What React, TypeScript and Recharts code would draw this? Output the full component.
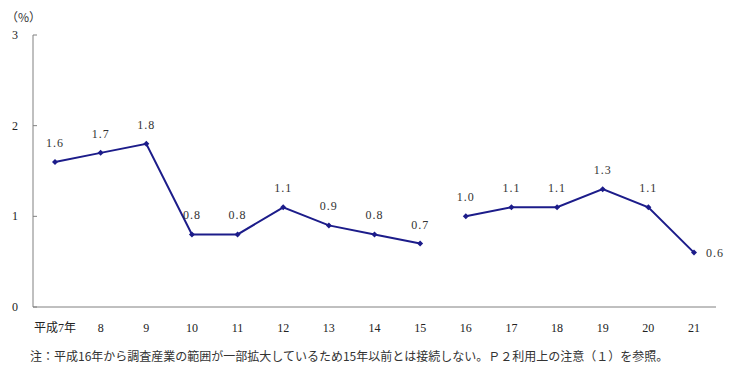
import { LineChart, Line, XAxis, YAxis, LabelList } from 'recharts';

// 年次（平成）
const years = ['平成7年', '8', '9', '10', '11', '12', '13', '14', '15', '16', '17', '18', '19', '20', '21'];
// 平成7〜15年
const before = [1.6, 1.7, 1.8, 0.8, 0.8, 1.1, 0.9, 0.8, 0.7];
// 平成16〜21年（調査産業の範囲が拡大）
const after = [1.0, 1.1, 1.1, 1.3, 1.1, 0.6];
const yTicks = [0, 1, 2, 3];

const data = years.map((y, i) => ({
  year: y,
  before: i < before.length ? before[i] : null,
  after: i >= before.length ? after[i - before.length] : null,
}));

const FONT = "'Liberation Serif', 'Noto Sans CJK JP', serif";
const LINE = '#1c1c8a';
const AXIS = '#808080';

const YTick = ({ x, y, payload }: any) => (
  <g>
    <text x={x} y={y} dy={4} textAnchor="end" fontSize={12} fill="#222" style={{ fontFamily: FONT }}>
      {payload.value}
    </text>
    <line x1={x + 15} x2={x + 19} y1={y} y2={y} stroke={AXIS} />
  </g>
);

const XTick = ({ x, y, payload }: any) => (
  <text x={x} y={y} dy={15} textAnchor="middle" fontSize={12} fill="#222" style={{ fontFamily: FONT }}>
    {payload.value}
  </text>
);

const Diamond = ({ cx, cy, value }: any) => {
  if (value == null || cx == null) return <g />;
  return <path d={`M${cx},${cy - 3}L${cx + 3},${cy}L${cx},${cy + 3}L${cx - 3},${cy}Z`} fill={LINE} />;
};

const ValueLabel = ({ x, y, value, index }: any) => {
  if (value == null) return null;
  const last = index === years.length - 1;
  return (
    <text
      x={last ? x + 12 : x}
      y={last ? y + 4 : y - 15}
      textAnchor={last ? 'start' : 'middle'}
      fontSize={12}
      fill="#333"
      style={{ fontFamily: FONT, letterSpacing: 1 }}
    >
      {Number(value).toFixed(1)}
    </text>
  );
};

export default function App() {
  return (
    <div style={{ position: 'absolute', left: 0, top: 0, width: 734, height: 378, background: '#fff' }}>
      <LineChart width={734} height={378} data={data} margin={{ top: 35, right: 18, left: 0, bottom: 51 }}>
        <XAxis
          dataKey="year"
          axisLine={{ stroke: AXIS }}
          tickLine={false}
          tickSize={0}
          tickMargin={10}
          height={20}
          interval={0}
          padding={{ left: 22, right: 22 }}
          tick={<XTick />}
        />
        <YAxis
          domain={[0, 3]}
          ticks={yTicks}
          width={33}
          axisLine={{ stroke: AXIS }}
          tickLine={false}
          tickSize={0}
          tickMargin={15}
          tick={<YTick />}
        />
        <Line
          dataKey="before"
          stroke={LINE}
          strokeWidth={2}
          dot={<Diamond />}
          activeDot={false}
          connectNulls={false}
          isAnimationActive={false}
        >
          <LabelList dataKey="before" content={<ValueLabel />} />
        </Line>
        <Line
          dataKey="after"
          stroke={LINE}
          strokeWidth={2}
          dot={<Diamond />}
          activeDot={false}
          connectNulls={false}
          isAnimationActive={false}
        >
          <LabelList dataKey="after" content={<ValueLabel />} />
        </Line>
      </LineChart>
      <div style={{ position: 'absolute', left: 6, top: 8, fontSize: 12, fontFamily: "'Noto Sans CJK JP', sans-serif", color: '#333' }}>
        （%）
      </div>
      <div
        style={{
          position: 'absolute',
          left: 30,
          top: 347,
          fontSize: 12,
          fontFamily: "'Noto Sans CJK JP', sans-serif",
          color: '#333',
          whiteSpace: 'nowrap',
        }}
      >
        注：平成16年から調査産業の範囲が一部拡大しているため15年以前とは接続しない。Ｐ２利用上の注意（１）を参照。
      </div>
    </div>
  );
}
